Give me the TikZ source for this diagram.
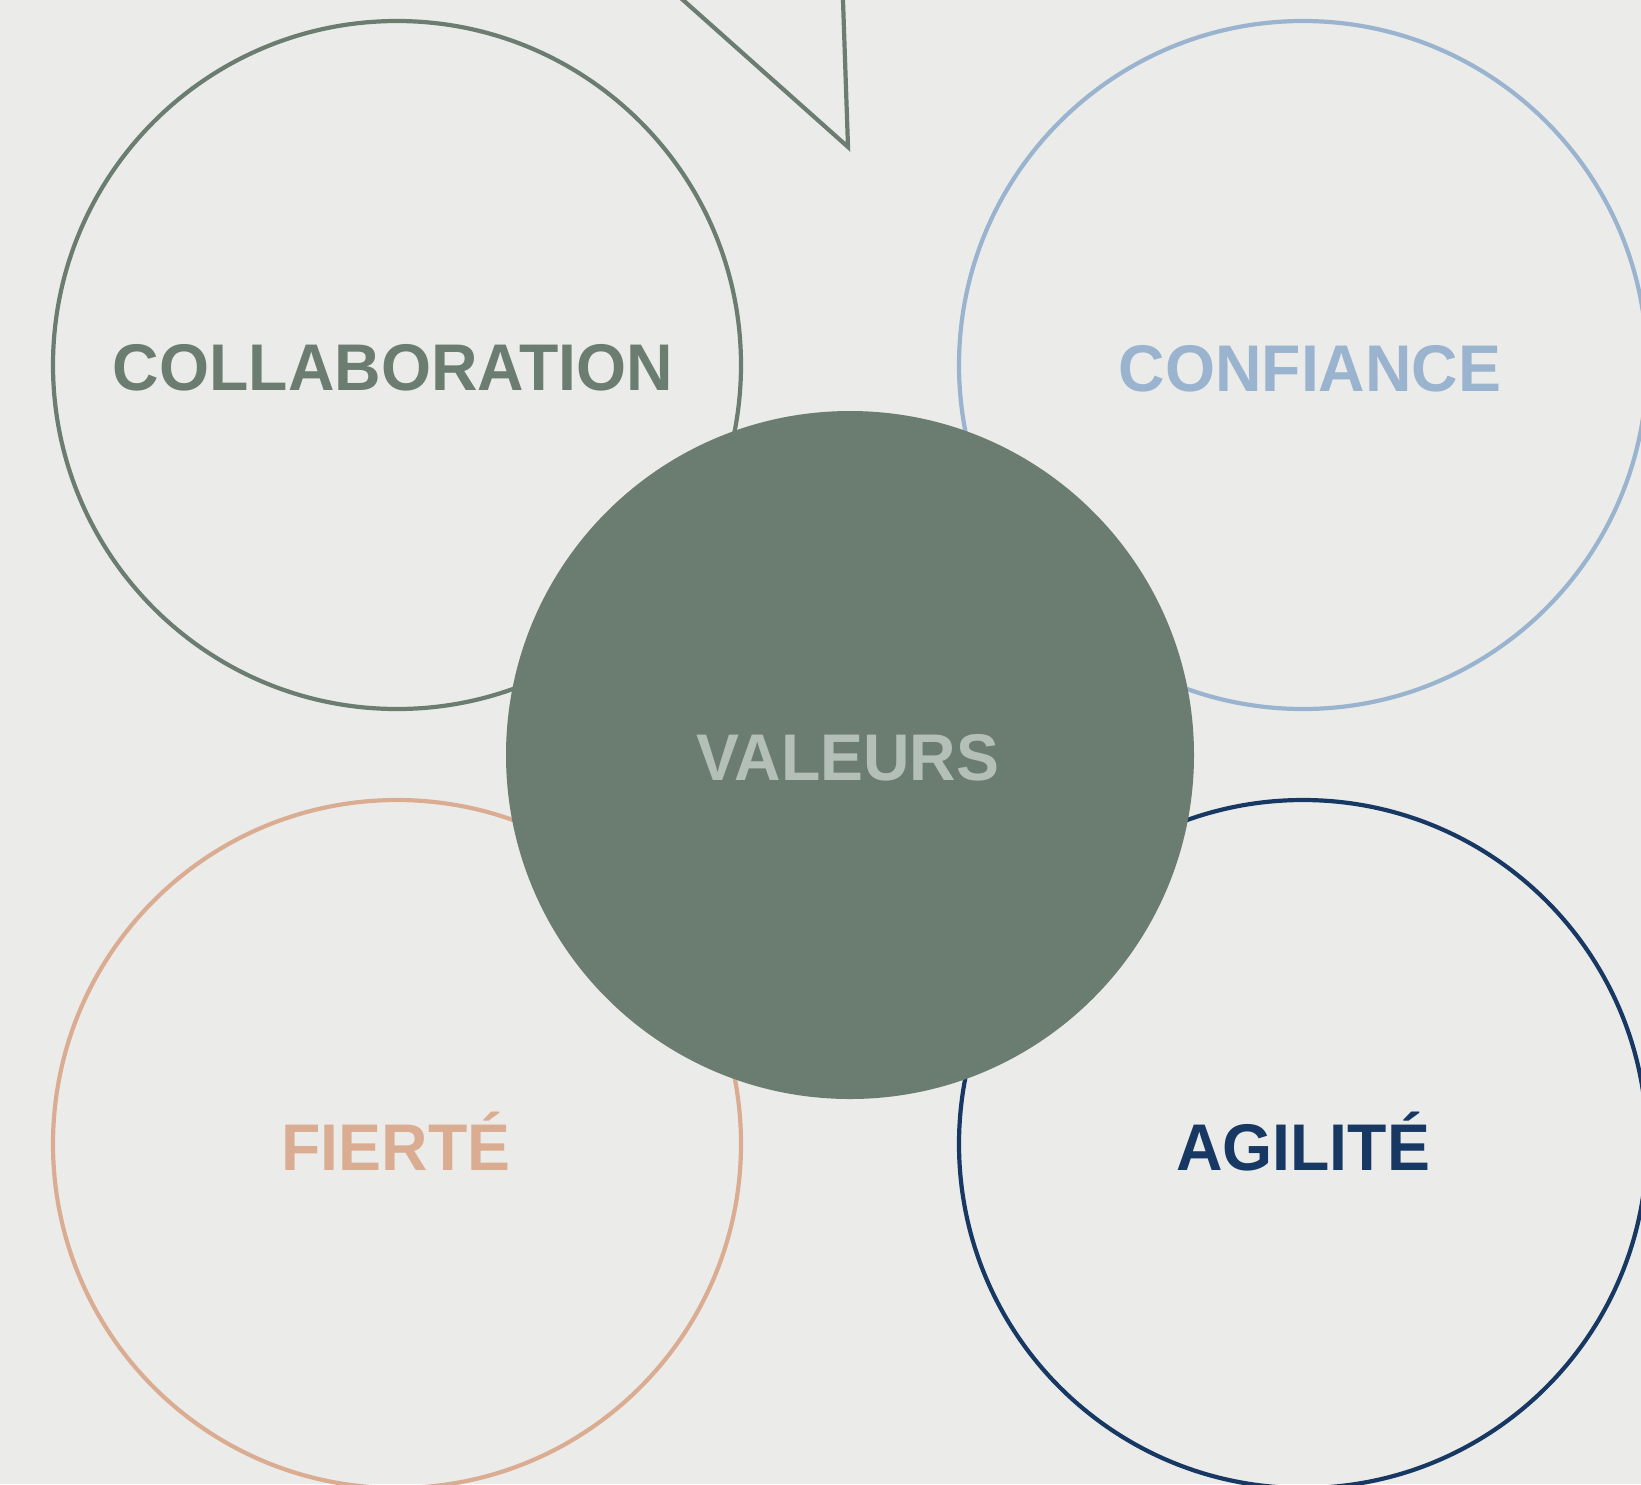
\documentclass[tikz,border=0pt]{standalone}
\usepackage{fontspec}
\setmainfont{Liberation Sans}
\newfontfamily\lblfont{Liberation Sans}[FakeStretch=0.975]
\definecolor{bgc}{HTML}{EBECEA}
\definecolor{sage}{HTML}{6A7D70}
\definecolor{sky}{HTML}{9AB3CE}
\definecolor{peach}{HTML}{DAAD93}
\definecolor{navy}{HTML}{163862}
\definecolor{pale}{HTML}{B4BFB8}
\tikzset{
  ring/.style={circle, minimum size=688pt, inner sep=0pt, line width=4.2pt},
  word/.style={anchor=base, inner sep=0pt, font=\lblfont\fontsize{66}{66}\selectfont\bfseries},
}
\begin{document}
\begin{tikzpicture}[x=1pt,y=-1pt]
\useasboundingbox (0,0) rectangle (1641,1484);
\fill[bgc] (0,0) rectangle (1641,1484);
\clip (0,0) rectangle (1641,1484);
% partial shape at top
\coordinate (p1) at (660.6,-20);
\coordinate (p2) at (848,147);
\coordinate (p3) at (842.3,-20);
\draw[sage, line width=4.2pt, line join=miter] (p1) -- (p2) -- (p3);
% outer rings
\node[ring, draw=sage] (tl) at (397,365) {};
\node[ring, draw=sky] (tr) at (1303,365) {};
\node[ring, draw=peach] (bl) at (397,1144) {};
\node[ring, draw=navy] (br) at (1303,1144) {};
% central disc
\node[ring, fill=sage] (c) at (850,755) {};
% labels
\node[word, text=sage] (tlt) at (393,390) {COLLABORATION};
\node[word, text=sky] (trt) at (1310,391) {CONFIANCE};
\node[word, text=peach] (blt) at (396,1170) {FIERTÉ};
\node[word, text=navy] (brt) at (1303,1170) {AGILITÉ};
\node[word, text=pale] (ct) at (848,780) {VALEURS};
\end{tikzpicture}
\end{document}
